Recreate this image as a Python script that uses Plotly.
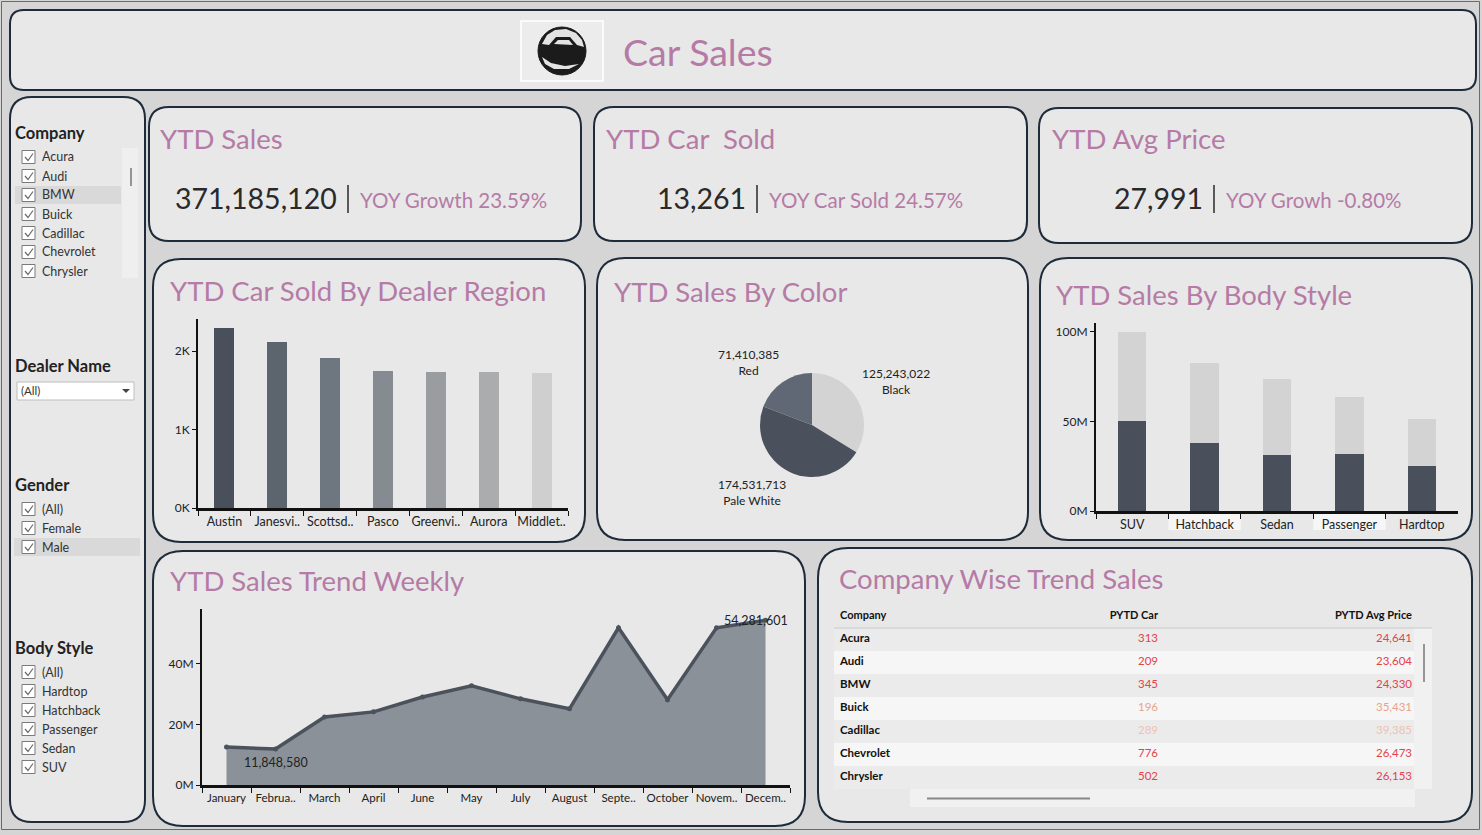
import plotly.graph_objects as go

W, H = 1482, 835
FONT = "Lato, Noto Sans, sans-serif"
TITLE_C = "#b57ba6"

# ---------------- data ----------------
kpi_titles = ["YTD Sales", "YTD Car  Sold", "YTD Avg Price"]
kpi_values = [371185120, 13261, 27991]
kpi_yoy_labels = ["YOY Growth", "YOY Car Sold", "YOY Growh"]
kpi_yoy = [23.59, 24.57, -0.80]

dealer_regions = ["Austin", "Janesville", "Scottsdale", "Pasco", "Greenville", "Aurora", "Middletown"]
dealer_labels = ["Austin", "Janesvi..", "Scottsd..", "Pasco", "Greenvi..", "Aurora", "Middlet.."]
dealer_cars = [2295, 2118, 1911, 1745, 1733, 1732, 1720]

color_names = ["Black", "Pale White", "Red"]
color_sales = [125243022, 174531713, 71410385]

body_styles = ["SUV", "Hatchback", "Sedan", "Passenger", "Hardtop"]
body_dark = [50.0e6, 37.9e6, 31.2e6, 31.8e6, 25.0e6]
body_light = [50.1e6, 44.8e6, 42.5e6, 31.9e6, 26.4e6]

months = ["January", "February", "March", "April", "June", "May", "July",
          "August", "September", "October", "November", "December"]
month_labels = ["January", "Februa..", "March", "April", "June", "May", "July",
                "August", "Septe..", "October", "Novem..", "Decem.."]
weekly_sales = [12.5e6, 11848580, 22.4e6, 24.1e6, 29.0e6, 32.7e6, 28.4e6,
                25.1e6, 51.8e6, 28.1e6, 51.8e6, 54281601]

table_headers = ["Company", "PYTD Car", "PYTD Avg Price"]
table_company = ["Acura", "Audi", "BMW", "Buick", "Cadillac", "Chevrolet", "Chrysler"]
table_pytd_car = [313, 209, 345, 196, 289, 776, 502]
table_pytd_price = [24641, 23604, 24330, 35431, 39385, 26473, 26153]

filter_company = ["Acura", "Audi", "BMW", "Buick", "Cadillac", "Chevrolet", "Chrysler"]
filter_gender = ["(All)", "Female", "Male"]
filter_body = ["(All)", "Hardtop", "Hatchback", "Passenger", "Sedan", "SUV"]

# ---------------- styles ----------------
dealer_colors = ["#4a505b", "#5c646e", "#6e767f", "#858b91", "#999da0", "#aaacae", "#cfcfcf"]
pie_colors = ["#d3d3d3", "#4a515d", "#5f6874"]
table_num_colors = ["#e2434d", "#e2434d", "#e2434d", "#e9a38a", "#efc2b2", "#e2434d", "#e2434d"]
row_fills = ["#ebebeb", "#f6f6f6"]


def fx(p):
    return p / W


def fy(p):
    return 1 - p / H


def rrect(x0, y0, x1, y1, r):
    pts = [("M", [(x0 + r, y0)]), ("L", [(x1 - r, y0)]), ("Q", [(x1, y0), (x1, y0 + r)]),
           ("L", [(x1, y1 - r)]), ("Q", [(x1, y1), (x1 - r, y1)]), ("L", [(x0 + r, y1)]),
           ("Q", [(x0, y1), (x0, y1 - r)]), ("L", [(x0, y0 + r)]), ("Q", [(x0, y0), (x0 + r, y0)])]
    s = ""
    for cmd, ps in pts:
        s += cmd + " " + " ".join(f"{fx(a):.5f},{fy(b):.5f}" for a, b in ps) + " "
    return s + "Z"


def poly(points, close=False):
    s = "M " + " L ".join(f"{fx(a):.5f},{fy(b):.5f}" for a, b in points)
    return s + (" Z" if close else "")


shapes = []
annotations = []


def ann(text, x, y, size, color="#222", xanchor="left", yanchor="middle", family=FONT):
    annotations.append(dict(text=text, x=fx(x), y=fy(y), xref="paper", yref="paper",
                            xanchor=xanchor, yanchor=yanchor, showarrow=False,
                            font=dict(size=size, color=color, family=family)))


def rect(x0, y0, x1, y1, fill, line="rgba(0,0,0,0)", lw=0, layer="below"):
    shapes.append(dict(type="rect", xref="paper", yref="paper", x0=fx(x0), x1=fx(x1),
                       y0=fy(y1), y1=fy(y0), fillcolor=fill, line=dict(color=line, width=lw),
                       layer=layer))


def line(x0, y0, x1, y1, color, width, layer="above"):
    shapes.append(dict(type="line", xref="paper", yref="paper", x0=fx(x0), x1=fx(x1),
                       y0=fy(y0), y1=fy(y1), line=dict(color=color, width=width), layer=layer))


def fpath(points, fill, layer="above"):
    shapes.append(dict(type="path", xref="paper", yref="paper", layer=layer,
                       path=poly(points, True), fillcolor=fill, line=dict(width=0)))


# outer frame
rect(1.5, 1.5, 1479.5, 829.5, "rgba(0,0,0,0)", "#6a6a6a", 1)

# panels
PANEL_FILL = "#e8e8e8"
PANEL_LINE = "#1e2b3a"
panels = [(10, 10, 1476, 90, 14), (10, 97, 145, 822, 22), (149, 107, 581, 241, 20),
          (594, 107, 1027, 241, 20), (1039, 108, 1472, 243, 20), (153, 259, 585, 542, 28),
          (597, 258, 1028, 540, 28), (1040, 258, 1472, 540, 28), (153, 551, 805, 826, 30),
          (818, 548, 1472, 822, 30)]
for (a, b, c, d, r) in panels:
    shapes.append(dict(type="path", path=rrect(a, b, c, d, r), xref="paper", yref="paper",
                       fillcolor=PANEL_FILL, line=dict(color=PANEL_LINE, width=2), layer="below"))

# ---------------- header ----------------
rect(521, 21, 603, 81, "#ececec", "#ffffff", 1.5)
shapes.append(dict(type="circle", xref="paper", yref="paper", x0=fx(538), x1=fx(586),
                   y0=fy(75), y1=fy(27), fillcolor="#1b1b1b", line=dict(color="#1b1b1b", width=1),
                   layer="above"))
fpath([(542, 44), (547, 35), (555, 30), (566, 29), (576, 33), (582, 40), (584, 47),
       (577, 45), (570, 37), (556, 37), (549, 45)], "#e3e3e3")
fpath([(554, 44), (558, 40), (569, 40), (573, 45)], "#e3e3e3")
fpath([(542, 57), (551, 63), (565, 66), (579, 64), (569, 69), (554, 69), (545, 64)], "#e3e3e3")
ann("Car Sales", 621, 52, 37.5, TITLE_C)

# ---------------- filters ----------------
def checklist(items, y_start, highlight=None, hl_x=(15, 121)):
    for i, it in enumerate(items):
        yc = y_start + 19 * i
        if highlight == it:
            rect(hl_x[0], yc - 9, hl_x[1], yc + 9, "#d9d9d9", layer="below")
        rect(22, yc - 6.5, 35, yc + 6.5, "#ffffff", "#7a7a7a", 1, layer="above")
        shapes.append(dict(type="path", xref="paper", yref="paper", layer="above",
                           path=poly([(25, yc), (28, yc + 3.5), (33, yc - 3.5)]),
                           line=dict(color="#6a6a6a", width=1.2)))
        ann(it, 40, yc, 12.5, "#333")


ann("<b>Company</b>", 13, 133, 16.5, "#222")
rect(122, 148, 138, 278, "#efefef", layer="below")
line(131, 168, 131, 186, "#777", 1.5)
checklist(filter_company, 157, highlight="BMW")

ann("<b>Dealer Name</b>", 13, 366, 16.5, "#222")
rect(17, 382, 134, 400, "#ffffff", "#bdbdbd", 1, layer="above")
ann("(All)", 19, 391, 11.5, "#333")
fpath([(122, 389), (130, 389), (126, 393)], "#444")

ann("<b>Gender</b>", 13, 485, 16.5, "#222")
checklist(filter_gender, 509, highlight="Male", hl_x=(14, 140))

ann("<b>Body Style</b>", 13, 648, 16.5, "#222")
checklist(filter_body, 672)

# ---------------- KPI cards ----------------
kpi_title_pos = [(158, 139), (604, 138), (1050, 139)]
kpi_sep_x = [348, 757, 1214]
for i in range(3):
    ann(kpi_titles[i], kpi_title_pos[i][0], kpi_title_pos[i][1], 27.5, TITLE_C)
    sx = kpi_sep_x[i]
    ann(f"{kpi_values[i]:,}", sx - 9, 198, 28.5, "#2a2a2a", xanchor="right")
    line(sx, 185, sx, 213, "#2a2a2a", 1.5)
    ann(f"{kpi_yoy_labels[i]} {kpi_yoy[i]:.2f}%", sx + 10, 200, 20.5, TITLE_C)

# ---------------- chart titles ----------------
ann("YTD Car Sold By Dealer Region", 168, 290, 27.5, TITLE_C)
ann("YTD Sales By Color", 612, 291, 27.5, TITLE_C)
ann("YTD Sales By Body Style", 1054, 294, 27.5, TITLE_C)
ann("YTD Sales Trend Weekly", 168, 580, 27.5, TITLE_C)
ann("Company Wise Trend Sales", 837, 578, 27.5, TITLE_C)

fig = go.Figure()

# ---------------- dealer region bars ----------------
fig.add_trace(go.Bar(x=dealer_regions, y=dealer_cars, marker=dict(color=dealer_colors, line=dict(width=0)),
                     width=0.38, xaxis="x", yaxis="y", showlegend=False))

# ---------------- pie ----------------
fig.add_trace(go.Pie(labels=color_names, values=color_sales, sort=False, direction="clockwise",
                     rotation=0, marker=dict(colors=pie_colors, line=dict(width=0)),
                     textinfo="none", showlegend=False, automargin=False,
                     domain=dict(x=[fx(760), fx(864)], y=[fy(477), fy(373)])))
pie_label_pos = {"Black": (896, 381), "Pale White": (752, 492), "Red": (748, 362)}
for n, v in zip(color_names, color_sales):
    px_, py_ = pie_label_pos[n]
    ann(f"{v:,}<br>{n}", px_, py_, 12, "#222", xanchor="center")

# ---------------- body style stacked bars ----------------
fig.add_trace(go.Bar(x=body_styles, y=body_dark, marker=dict(color="#4a505b", line=dict(width=0)),
                     width=0.39, xaxis="x2", yaxis="y2", showlegend=False))
fig.add_trace(go.Bar(x=body_styles, y=body_light, marker=dict(color="#d3d3d3", line=dict(width=0)),
                     width=0.39, xaxis="x2", yaxis="y2", showlegend=False))
for i in (1, 3):
    shapes.append(dict(type="rect", xref="x2", yref="paper", x0=i - 0.5, x1=i + 0.5,
                       y0=fy(530), y1=fy(513), fillcolor="#f6f6f6", line=dict(width=0), layer="below"))

# ---------------- weekly trend ----------------
fig.add_trace(go.Scatter(x=months, y=weekly_sales, mode="lines+markers", fill="tozeroy",
                         fillcolor="#8b9198", line=dict(color="#4b525c", width=3.5),
                         marker=dict(size=5, color="#4b525c"), xaxis="x3", yaxis="y3",
                         showlegend=False))
annotations.append(dict(x=months[1], y=weekly_sales[1], xref="x3", yref="y3", showarrow=False,
                        text=f"{weekly_sales[1]:,}", yshift=-13, xanchor="center",
                        font=dict(size=12.5, color="#222", family=FONT)))
annotations.append(dict(x=months[-1], y=weekly_sales[-1], xref="x3", yref="y3", showarrow=False,
                        text=f"{weekly_sales[-1]:,}", xshift=-10, xanchor="center",
                        font=dict(size=12.5, color="#222", family=FONT)))

# ---------------- table (text marks on a hidden axis pair) ----------------
rect(1414, 628, 1432, 789, "#f1f1f1", layer="below")
rect(910, 789, 1415, 807, "#f1f1f1", layer="below")
line(1424, 644, 1424, 682, "#777", 1.5)
line(927, 798.5, 1090, 798.5, "#888", 2)
line(834, 628, 1432, 628, "#c9c9c9", 1.2)
n_rows = len(table_company)
rows = list(range(n_rows))
for i in rows:
    shapes.append(dict(type="rect", xref="x4", yref="y4", x0=0, x1=580, y0=i - 0.5, y1=i + 0.5,
                       fillcolor=row_fills[i % 2], line=dict(width=0), layer="below"))
COL_X = [6, 324, 578]
fig.add_trace(go.Scatter(x=[COL_X[0]] * n_rows, y=rows, mode="text",
                         text=[f"<b>{c}</b>" for c in table_company], textposition="middle right",
                         textfont=dict(size=11.5, color="#111", family=FONT),
                         xaxis="x4", yaxis="y4", showlegend=False, hoverinfo="skip"))
fig.add_trace(go.Scatter(x=[COL_X[1]] * n_rows, y=rows, mode="text",
                         text=[f"{v:,}" for v in table_pytd_car], textposition="middle left",
                         textfont=dict(size=11.5, color=table_num_colors, family=FONT),
                         xaxis="x4", yaxis="y4", showlegend=False, hoverinfo="skip"))
fig.add_trace(go.Scatter(x=[COL_X[2]] * n_rows, y=rows, mode="text",
                         text=[f"{v:,}" for v in table_pytd_price], textposition="middle left",
                         textfont=dict(size=11.5, color=table_num_colors, family=FONT),
                         xaxis="x4", yaxis="y4", showlegend=False, hoverinfo="skip"))
fig.add_trace(go.Scatter(x=COL_X, y=[-1, -1, -1], mode="text",
                         text=[f"<b>{h}</b>" for h in table_headers],
                         textposition=["middle right", "middle left", "middle left"],
                         textfont=dict(size=11, color="#111", family=FONT),
                         xaxis="x4", yaxis="y4", showlegend=False, hoverinfo="skip"))

# ---------------- layout ----------------
axis_font = dict(size=12.5, color="#222", family=FONT)
common_x = dict(type="category", showline=True, linecolor="#111", linewidth=3, ticks="outside",
                tickson="boundaries", ticklen=5, tickcolor="#111", tickfont=axis_font, tickangle=0,
                showgrid=False, zeroline=False, fixedrange=True, automargin=False)
common_y = dict(showline=True, linecolor="#111", linewidth=2, ticks="outside", ticklen=4,
                tickcolor="#111", tickfont=dict(size=12, color="#222", family=FONT),
                showgrid=False, zeroline=False, fixedrange=True, automargin=False)
hidden = dict(visible=False, showgrid=False, zeroline=False, fixedrange=True, automargin=False)

fig.update_layout(
    width=W, height=H, margin=dict(l=0, r=0, t=0, b=0, pad=0, autoexpand=False),
    paper_bgcolor="#d5d5d5", plot_bgcolor="rgba(0,0,0,0)",
    font=dict(family=FONT), barmode="stack", bargap=0.6,
    xaxis=dict(common_x, domain=[fx(198), fx(568)], anchor="y", range=[-0.5, len(dealer_regions) - 0.5],
               tickvals=dealer_regions, ticktext=dealer_labels),
    yaxis=dict(common_y, domain=[fy(508), fy(319)], anchor="x", range=[0, 2410],
               tickvals=[0, 1000, 2000], ticktext=["0K", "1K", "2K"]),
    xaxis2=dict(common_x, domain=[fx(1096), fx(1458)], anchor="y2", range=[-0.5, len(body_styles) - 0.5]),
    yaxis2=dict(common_y, domain=[fy(511), fy(323)], anchor="x2", range=[0, 105e6],
                tickvals=[0, 50e6, 100e6], ticktext=["0M", "50M", "100M"]),
    xaxis3=dict(common_x, domain=[fx(202), fx(790)], anchor="y3", range=[-0.5, len(months) - 0.5],
                tickvals=months, ticktext=month_labels,
                tickfont=dict(size=11.5, color="#222", family=FONT)),
    yaxis3=dict(common_y, domain=[fy(785), fy(609)], anchor="x3", range=[0, 58e6],
                tickvals=[0, 20e6, 40e6], ticktext=["0M", "20M", "40M"]),
    xaxis4=dict(hidden, domain=[fx(834), fx(1414)], anchor="y4", range=[0, 580]),
    yaxis4=dict(hidden, domain=[fy(789), fy(605)], anchor="x4", range=[n_rows - 0.5, -1.5]),
    shapes=shapes, annotations=annotations,
)

fig.write_html(
    "out.html", config={"displayModeBar": False},
    post_script=("document.documentElement.style.overflow='hidden';"
                 "document.body.style.margin='0';document.body.style.overflow='hidden';"
                 "var gd=document.getElementsByClassName('plotly-graph-div')[0];"
                 "gd.style.position='fixed';gd.style.left='0px';gd.style.top='0px';"))
